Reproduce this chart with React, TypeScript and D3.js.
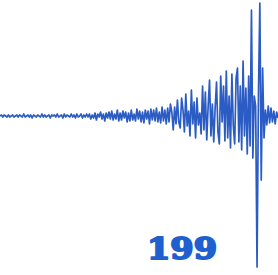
import { useMemo } from "react";
import * as d3 from "d3";

// waveform amplitude (px above the baseline)
const quietSegment = [
  0, 1, -1, 1, 0, -1, 1, -1, 0, 1, -1, 0, 1, -1, 1, 0, -1, 2, -1, 0, 1, -1, 1, -2, 1, 0, -1, 1, 0, -1,
  2, -1, 1, -1, 0, 1, -2, 1, 0, 1, -1, 2, -1, 0, 1, -2, 2, -1, 1, 0, -1, 2, -1, 1, -2, 2, -1, 0, 2, -2,
  1, -1, 2, -1,
];
const risingSegment = [
  2, -3, 1, -2, 3, -4, 2, -1, 4, -3, 2, -5, 3, -2, 4, -3, 5, -4, 2, -3, 6, -5, 3, -4, 5, -2, 4, -6, 3, -5,
  6, -4, 2, -5, 7, -3, 5, -6, 4, -7, 6, -3, 5, -8, 7, -4, 6, -5, 8, -6, 4, -7, 9, -5, 6, -8,
];
const buildUpSegment = [
  8, -6, 12, 4, -14, 9, -8, 16, -6, -12, 18, 6, -16, 22, -10, 5, -20, 26, -8, 14, -22, 18, -9, 3, -18,
  30, -14, 24, -24, 10, 36, -20, 12, -26, 8, 34, -16, -28, 40, -6, 30, -25, 45, -22, 20, -32, 42, -10, -28, 38,
];
const peakSegment = [48, -26, 30, -34, 55, -20, 28, -38, 40, -30, 106, -42, 20, 10, -151, 20, 113, -64, 48, -22];
const tailSegment = [6, -9, 10, -7, 8, -6, 5, -8, 4, -2];

const label = "199";

const W = 278;
const H = 275;

export default function App() {
  const values = useMemo(
    () => [...quietSegment, ...risingSegment, ...buildUpSegment, ...peakSegment, ...tailSegment],
    []
  );

  const x = d3.scaleLinear().domain([0, values.length - 1]).range([0, W]);
  const y = d3.scaleLinear().domain([-116, 116]).range([232, 0]);

  const line = d3
    .line<number>()
    .x((_, i) => x(i))
    .y((d) => y(d));

  return (
    <div style={{ position: "absolute", left: 0, top: 0 }}>
      <svg width={W} height={H} viewBox={`0 0 ${W} ${H}`} style={{ display: "block", background: "#fff" }}>
        <path d={line(values) ?? ""} fill="none" stroke="#2b5cc4" strokeWidth={1.7} strokeLinejoin="round" />
        <text
          x={182}
          y={259}
          textAnchor="middle"
          fontFamily="DejaVu Serif"
          fontWeight="bold"
          fontSize={30}
          textLength={70}
          lengthAdjust="spacingAndGlyphs"
          fill="#1f5fcf"
          stroke="#1f5fcf"
          strokeWidth={2}
          strokeLinejoin="round"
        >
          {label}
        </text>
      </svg>
    </div>
  );
}
